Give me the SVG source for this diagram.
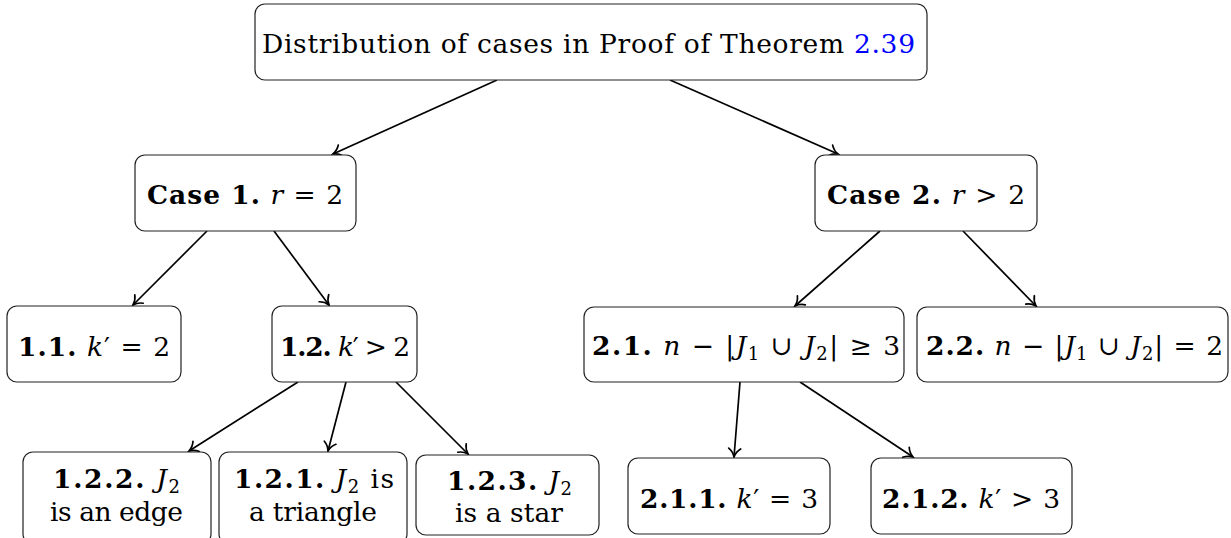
<svg xmlns="http://www.w3.org/2000/svg" width="1231" height="538" viewBox="0 0 1231 538">
<style>
  .box{fill:#fff;stroke:#222;stroke-width:1.2}
  .t{font-family:'DejaVu Serif','Liberation Serif','Times New Roman',serif;font-size:26.5px;fill:#000}
  .b{font-weight:bold}
  .i{font-style:italic}
  .s{font-size:18px}
  .blue{fill:#0000ff}
  .edge{stroke:#000;stroke-width:1.7;fill:none;marker-end:url(#to)}
</style>
<defs>
  <marker id="to" markerUnits="userSpaceOnUse" viewBox="-12 -8 14 16" refX="0" refY="0" markerWidth="14" markerHeight="16" orient="auto">
    <path d="M-8.5,-6 C-6,-2.5 -2.5,-0.7 0,0 C-2.5,0.7 -6,2.5 -8.5,6" fill="none" stroke="#000" stroke-width="1.7" stroke-linecap="round"/>
  </marker>
</defs>
<rect width="1231" height="538" fill="#fff"/>
<g id="connectors">
  <line class="edge" x1="497" y1="80" x2="333" y2="154"/>
  <line class="edge" x1="670" y1="80" x2="838" y2="154"/>
  <line class="edge" x1="207" y1="231" x2="133" y2="305"/>
  <line class="edge" x1="274" y1="231" x2="329" y2="305"/>
  <line class="edge" x1="880" y1="231" x2="795" y2="306"/>
  <line class="edge" x1="963" y1="231" x2="1036" y2="306"/>
  <line class="edge" x1="298" y1="382" x2="189" y2="451"/>
  <line class="edge" x1="346" y1="382" x2="328" y2="451"/>
  <line class="edge" x1="396" y1="382" x2="468" y2="454"/>
  <line class="edge" x1="740" y1="382" x2="734" y2="457"/>
  <line class="edge" x1="800" y1="382" x2="913" y2="457"/>
</g>
<g id="root">
  <rect class="box" x="255" y="4" width="672" height="76" rx="10"/>
  <text class="t" x="262" y="53" textLength="653">Distribution of cases in Proof of Theorem <tspan class="blue">2.39</tspan></text>
</g>
<g id="case1">
  <rect class="box" x="135" y="155" width="221" height="76" rx="10"/>
  <text class="t" x="147" y="204" textLength="196"><tspan class="b">Case 1.</tspan> <tspan class="i">r</tspan> = 2</text>
</g>
<g id="case2">
  <rect class="box" x="815" y="155" width="222" height="76" rx="10"/>
  <text class="t" x="827" y="204" textLength="198"><tspan class="b">Case 2.</tspan> <tspan class="i">r</tspan> &gt; 2</text>
</g>
<g id="n11">
  <rect class="box" x="7" y="306" width="174" height="76" rx="10"/>
  <text class="t" x="18" y="356" textLength="152"><tspan class="b">1.1.</tspan> <tspan class="i">k</tspan>′ = 2</text>
</g>
<g id="n12">
  <rect class="box" x="272" y="306" width="145" height="76" rx="10"/>
  <text class="t" x="280" y="356" textLength="130"><tspan class="b">1.2.</tspan> <tspan class="i">k</tspan>′ &gt; 2</text>
</g>
<g id="n21">
  <rect class="box" x="584" y="307" width="320" height="75" rx="10"/>
  <text class="t" x="592" y="355" textLength="308"><tspan class="b">2.1.</tspan> <tspan class="i">n</tspan> − |<tspan class="i">J</tspan><tspan class="s" dy="5">1</tspan><tspan dy="-5"> ∪ </tspan><tspan class="i">J</tspan><tspan class="s" dy="5">2</tspan><tspan dy="-5">| ≥ 3</tspan></text>
</g>
<g id="n22">
  <rect class="box" x="917" y="307" width="311" height="75" rx="10"/>
  <text class="t" x="926" y="355" textLength="297"><tspan class="b">2.2.</tspan> <tspan class="i">n</tspan> − |<tspan class="i">J</tspan><tspan class="s" dy="5">1</tspan><tspan dy="-5"> ∪ </tspan><tspan class="i">J</tspan><tspan class="s" dy="5">2</tspan><tspan dy="-5">| = 2</tspan></text>
</g>
<g id="n122">
  <rect class="box" x="23" y="452" width="188" height="92" rx="10"/>
  <text class="t" x="53" y="488" textLength="127"><tspan class="b">1.2.2.</tspan>  <tspan class="i">J</tspan><tspan class="s" dy="5">2</tspan></text>
  <text class="t" x="50" y="521" textLength="133">is an edge</text>
</g>
<g id="n121">
  <rect class="box" x="219" y="452" width="188" height="92" rx="10"/>
  <text class="t" x="234" y="488" textLength="160"><tspan class="b">1.2.1.</tspan>  <tspan class="i">J</tspan><tspan class="s" dy="5">2</tspan><tspan dy="-5"> is</tspan></text>
  <text class="t" x="249" y="521" textLength="128">a triangle</text>
</g>
<g id="n123">
  <rect class="box" x="416" y="455" width="183" height="80" rx="10"/>
  <text class="t" x="447" y="490" textLength="125"><tspan class="b">1.2.3.</tspan>  <tspan class="i">J</tspan><tspan class="s" dy="5">2</tspan></text>
  <text class="t" x="455" y="522" textLength="108">is a star</text>
</g>
<g id="n211">
  <rect class="box" x="628" y="458" width="202" height="76" rx="10"/>
  <text class="t" x="640" y="508" textLength="178"><tspan class="b">2.1.1.</tspan> <tspan class="i">k</tspan>′ = 3</text>
</g>
<g id="n212">
  <rect class="box" x="871" y="458" width="201" height="76" rx="10"/>
  <text class="t" x="882" y="508" textLength="178"><tspan class="b">2.1.2.</tspan> <tspan class="i">k</tspan>′ &gt; 3</text>
</g>
</svg>
